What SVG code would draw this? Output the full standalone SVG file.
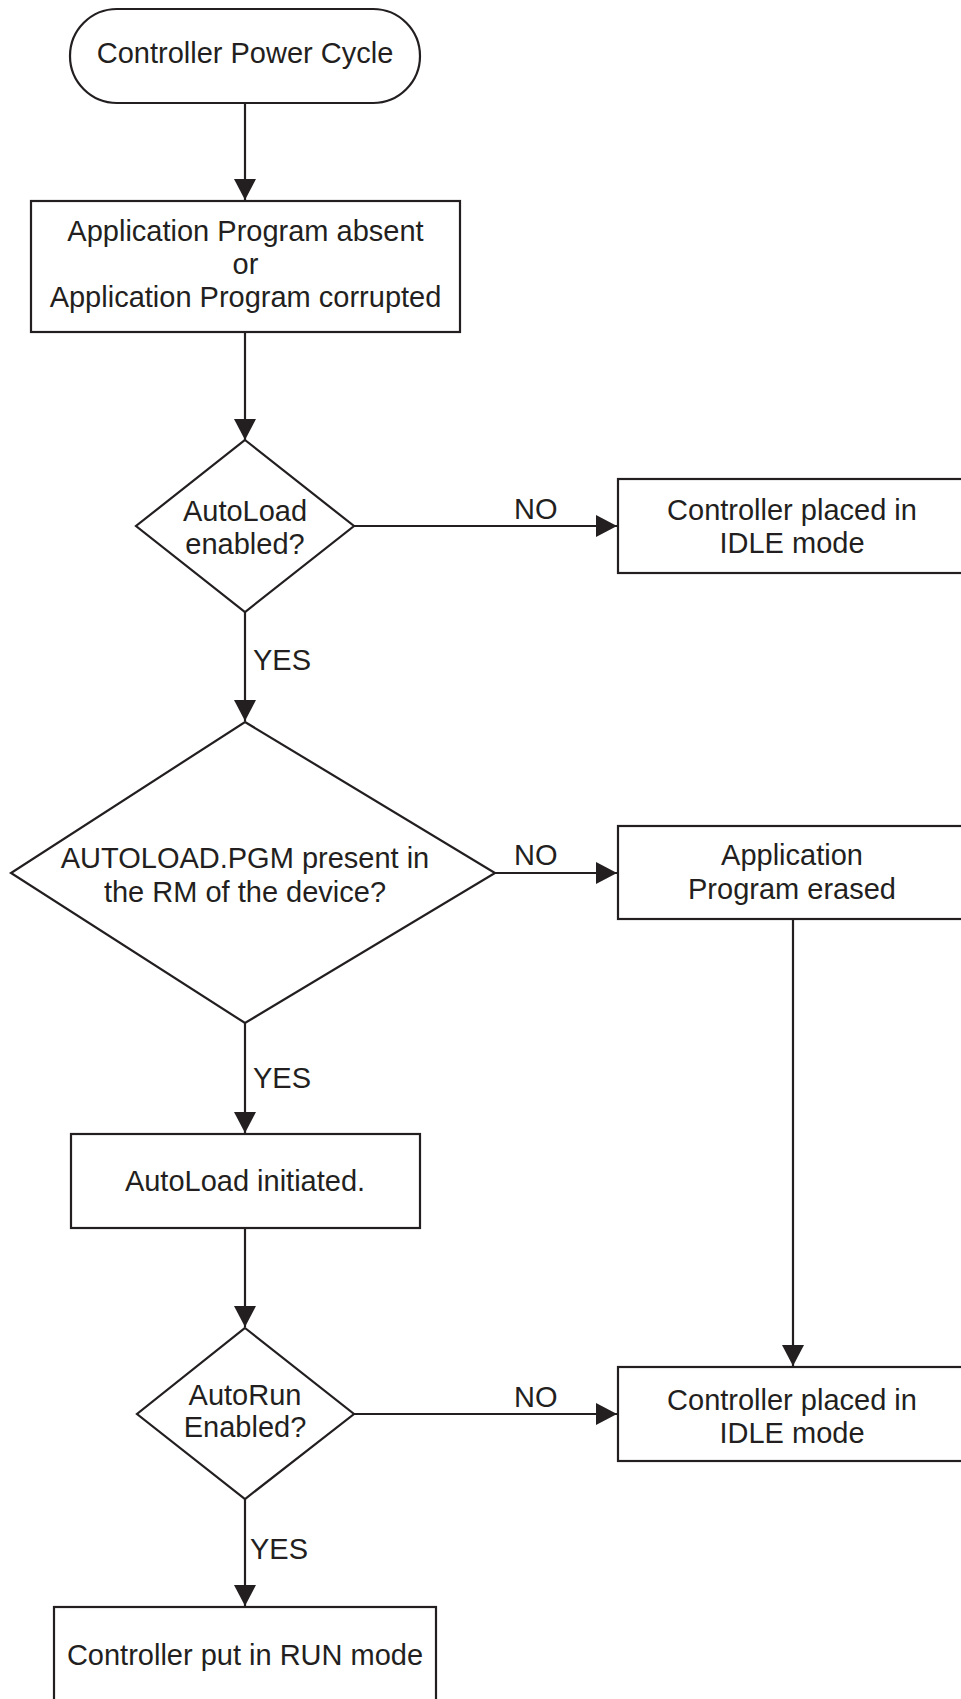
<svg xmlns="http://www.w3.org/2000/svg" width="961" height="1699" viewBox="0 0 961 1699">
<style>
.s{fill:#fff;stroke:#231f20;stroke-width:2.2}
.t{font-family:"Liberation Sans",Arial,sans-serif;font-size:29px;fill:#231f20;text-anchor:middle}
.l{font-family:"Liberation Sans",Arial,sans-serif;font-size:29px;fill:#231f20}
.c{fill:none;stroke:#231f20;stroke-width:2.2}
</style>
<defs>
<marker id="ah" markerUnits="userSpaceOnUse" markerWidth="22" markerHeight="24" refX="21" refY="12" orient="auto">
<path d="M0,1 L21,12 L0,23 Z" fill="#231f20"/>
</marker>
</defs>
<rect width="961" height="1699" fill="#fff"/>
<g id="connectors">
<line class="c" x1="245" y1="103" x2="245" y2="200" marker-end="url(#ah)"/>
<line class="c" x1="245" y1="332" x2="245" y2="440" marker-end="url(#ah)"/>
<line class="c" x1="354" y1="526" x2="617" y2="526" marker-end="url(#ah)"/>
<line class="c" x1="245" y1="612" x2="245" y2="721" marker-end="url(#ah)"/>
<line class="c" x1="495" y1="873" x2="617" y2="873" marker-end="url(#ah)"/>
<line class="c" x1="245" y1="1023" x2="245" y2="1133" marker-end="url(#ah)"/>
<line class="c" x1="793" y1="919" x2="793" y2="1366" marker-end="url(#ah)"/>
<line class="c" x1="245" y1="1228" x2="245" y2="1327" marker-end="url(#ah)"/>
<line class="c" x1="354" y1="1414" x2="617" y2="1414" marker-end="url(#ah)"/>
<line class="c" x1="245" y1="1499" x2="245" y2="1606" marker-end="url(#ah)"/>
<text class="l" x="514" y="519">NO</text>
<text class="l" x="253" y="670">YES</text>
<text class="l" x="514" y="865">NO</text>
<text class="l" x="253" y="1088">YES</text>
<text class="l" x="514" y="1407">NO</text>
<text class="l" x="250" y="1559">YES</text>
</g>
<g id="start">
<rect class="s" x="70" y="9" width="350" height="94" rx="47" ry="47"/>
<text class="t" x="245" y="63">Controller Power Cycle</text>
</g>
<g id="absent">
<rect class="s" x="31" y="201" width="429" height="131"/>
<text class="t" x="245.5" y="241">Application Program absent</text>
<text class="t" x="245.5" y="274">or</text>
<text class="t" x="245.5" y="307">Application Program corrupted</text>
</g>
<g id="autoload-enabled">
<polygon class="s" points="245,440 354,526 245,612 136,526"/>
<text class="t" x="245" y="521">AutoLoad</text>
<text class="t" x="245" y="554">enabled?</text>
</g>
<g id="idle1">
<rect class="s" x="618" y="479" width="346" height="94"/>
<text class="t" x="792" y="520">Controller placed in</text>
<text class="t" x="792" y="553">IDLE mode</text>
</g>
<g id="pgm-present">
<polygon class="s" points="245,722 495,873 245,1023 11,873"/>
<text class="t" x="245" y="868">AUTOLOAD.PGM present in</text>
<text class="t" x="245" y="902">the RM of the device?</text>
</g>
<g id="erased">
<rect class="s" x="618" y="826" width="346" height="93"/>
<text class="t" x="792" y="865">Application</text>
<text class="t" x="792" y="899">Program erased</text>
</g>
<g id="initiated">
<rect class="s" x="71" y="1134" width="349" height="94"/>
<text class="t" x="245" y="1191">AutoLoad initiated.</text>
</g>
<g id="autorun-enabled">
<polygon class="s" points="245,1328 354,1414 245,1499 137,1414"/>
<text class="t" x="245" y="1405">AutoRun</text>
<text class="t" x="245" y="1437">Enabled?</text>
</g>
<g id="idle2">
<rect class="s" x="618" y="1367" width="346" height="94"/>
<text class="t" x="792" y="1410">Controller placed in</text>
<text class="t" x="792" y="1443">IDLE mode</text>
</g>
<g id="run">
<rect class="s" x="54" y="1607" width="382" height="100"/>
<text class="t" x="245" y="1665">Controller put in RUN mode</text>
</g>
</svg>
